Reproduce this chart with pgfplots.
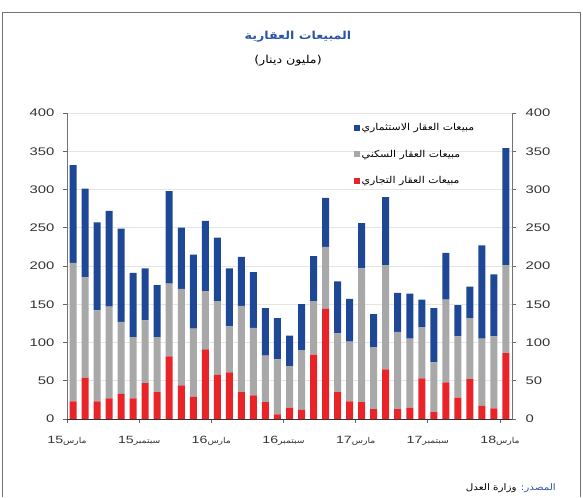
\documentclass[border=0pt]{standalone}
\usepackage{fontspec}
\usepackage{pgfplots}
\pgfplotsset{compat=1.18}
\usepackage{pgfplotstable}
\TeXXeTstate=1
\setmainfont[FakeStretch=1.35]{Liberation Sans}
\newfontfamily\arabicfont[Script=Arabic,FakeStretch=1.15]{DejaVu Sans}
\definecolor{cblue}{RGB}{30,72,150}
\definecolor{cgray}{RGB}{168,168,168}
\definecolor{cred}{RGB}{232,36,40}
\definecolor{ctitle}{RGB}{45,85,165}
\newcommand{\xl}[2]{#2{\fontsize{8}{9}\selectfont\arabicfont\beginR #1\endR}}

\pgfplotstableread{
k red gray blue
0 23 181 128
1 54 131 116
2 23 119 115
3 27 120 125
4 33 94 122
5 27 80 84
6 47 82 68
7 35 72 68
8 82 95 121
9 44 126 80
10 29 89 97
11 91 76 92
12 58 96 83
13 61 60 76
14 35 113 64
15 31 88 73
16 22 61 62
17 6 72 54
18 15 54 40
19 12 78 60
20 84 70 59
21 144 81 64
22 35 77 68
23 23 78 56
24 22 175 59
25 13 81 43
26 65 136 89
27 13 101 51
28 15 90 59
29 53 67 36
30 9 65 71
31 48 108 61
32 28 80 41
33 52 80 41
34 17 88 122
35 14 94 81
36 86 115 153
}\data

\begin{document}
\begin{tikzpicture}[x=1pt,y=1pt]
\path (0,0) rectangle (583,496);
\draw[black!55, line width=0.8pt] (2,-1) -- (2,484) -- (580,484) -- (580,-1);
\node[font=\fontsize{11}{13}\selectfont\arabicfont\bfseries, text=ctitle] at (298,459) {\beginR المبيعات العقارية\endR};
\node[font=\fontsize{11}{13}\selectfont\arabicfont] at (288,435) {\beginR (مليون دينار)\endR};
\node[font=\fontsize{9}{11}\selectfont\arabicfont, anchor=east, text=ctitle, inner sep=0pt] (src) at (556,8) {\beginR المصدر:\endR};
\node[font=\fontsize{9}{11}\selectfont\arabicfont, anchor=east, inner sep=0pt] at ([xshift=-4pt]src.west) {\beginR وزارة العدل\endR};

\begin{axis}[
  at={(67pt,77pt)}, anchor=south west,
  scale only axis, width=445pt, height=306pt,
  ybar stacked, bar width=7pt,
  xmin=-0.5, xmax=36.5, ymin=0, ymax=400,
  enlargelimits=false,
  axis x line*=bottom, axis y line*=left,
  ytick={0,50,...,400},
  xtick={-0.5,5.5,...,35.5},
  xticklabels={\xl{مارس}{15},\xl{سبتمبر}{15},\xl{مارس}{16},\xl{سبتمبر}{16},\xl{مارس}{17},\xl{سبتمبر}{17},\xl{مارس}{18}},
  ymajorgrids, grid style={black!10, line width=0.6pt},
  axis line style={black!55, line width=0.9pt},
  x axis line style={black!80},
  tick align=outside, major tick length=4pt,
  tick style={black!60, line width=0.8pt},
  /pgf/number format/assume math mode=true,
  yticklabel style={font=\fontsize{11}{13}\selectfont, text=black!80, xshift=-5pt},
  xticklabel style={font=\fontsize{10.5}{13}\selectfont, text=black!80, yshift=-10pt},
  legend style={at={(0.637,0.98)}, anchor=north west, draw=none, fill=none,
    font=\fontsize{9.5}{10}\selectfont\arabicfont, row sep=14pt, cells={anchor=west}},
  reverse legend,
  legend image code/.code={\draw[#1,draw=none] (0pt,-3pt) rectangle (6pt,3pt);},
]
\addplot[fill=cred, draw=none] table[x=k,y=red]{\data};
\addlegendentry{\beginR مبيعات العقار التجاري\endR}
\addplot[fill=cgray, draw=none] table[x=k,y=gray]{\data};
\addlegendentry{\beginR مبيعات العقار السكني\endR}
\addplot[fill=cblue, draw=none] table[x=k,y=blue]{\data};
\addlegendentry{\beginR مبيعات العقار الاستثماري\endR}
\end{axis}

\begin{axis}[
  at={(67pt,77pt)}, anchor=south west,
  scale only axis, width=445pt, height=306pt,
  xmin=-0.5, xmax=36.5, ymin=0, ymax=400,
  axis x line=none, axis y line*=right,
  ytick={0,50,...,400},
  axis line style={black!55, line width=0.9pt},
  tick align=outside, major tick length=4pt,
  tick style={black!60, line width=0.8pt},
  /pgf/number format/assume math mode=true,
  yticklabel style={font=\fontsize{11}{13}\selectfont, text=black!80, xshift=6pt},
]
\addplot[draw=none] coordinates {(0,0)};
\end{axis}
\end{tikzpicture}
\end{document}
